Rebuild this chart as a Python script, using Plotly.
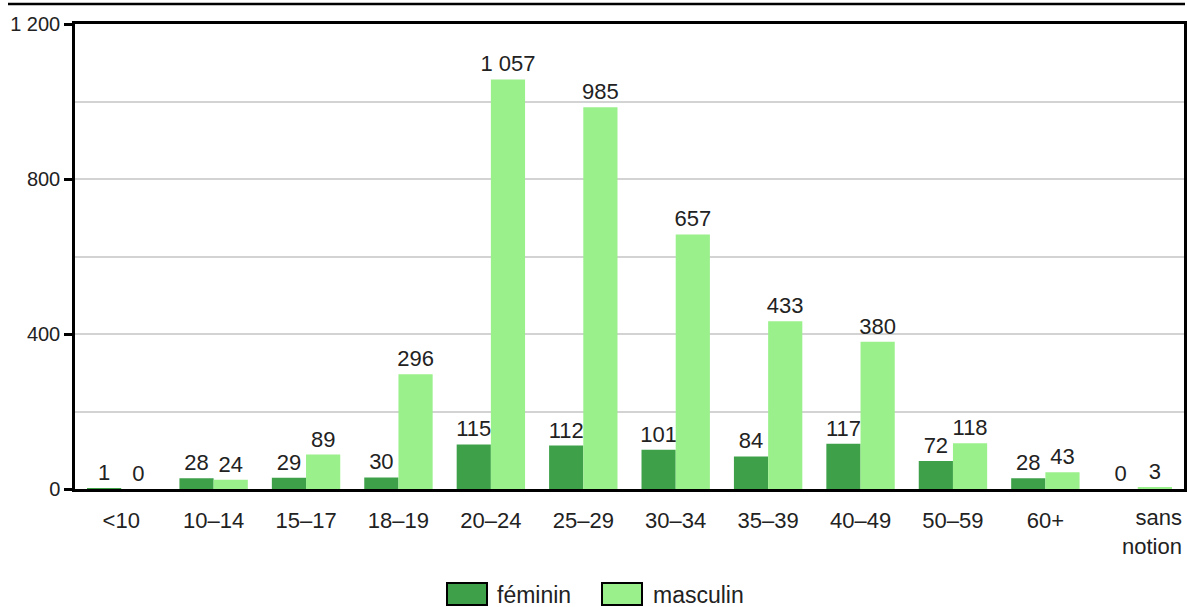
import plotly.graph_objects as go

categories = ["<10", "10–14", "15–17", "18–19", "20–24", "25–29", "30–34",
              "35–39", "40–49", "50–59", "60+", "sans notion"]
feminin = [1, 28, 29, 30, 115, 112, 101, 84, 117, 72, 28, 0]
masculin = [0, 24, 89, 296, 1057, 985, 657, 433, 380, 118, 43, 3]
series_names = ["féminin", "masculin"]
colors = ["#3ea14a", "#9af08b"]
y_ticks = [0, 400, 800, 1200]

FONT = "Liberation Sans, Arial, sans-serif"
TXT = "#222"
L, T, R, B = 75, 24, 3, 118
W, H = 1187, 607
pw, ph = W - L - R, H - T - B


def px_x(p):
    return (p - L) / pw


def px_y(p):
    return (H - B - p) / ph


fig = go.Figure()
for name, vals, col in zip(series_names, [feminin, masculin], colors):
    fig.add_trace(go.Bar(
        x=list(range(len(categories))), y=vals, name=name,
        marker=dict(color=col, line=dict(width=0)),
        text=vals, texttemplate="%{y:,}", textposition="outside",
        constraintext="none",
        textfont=dict(family=FONT, size=22, color=TXT),
        cliponaxis=False, showlegend=False,
    ))

ticktext = categories[:-1] + [""]
fig.update_layout(
    width=W, height=H,
    margin=dict(l=L, r=R, t=T, b=B, autoexpand=False),
    paper_bgcolor="white", plot_bgcolor="white",
    barmode="group", bargap=0.26, bargroupgap=0,
    separators=", ",
    font=dict(family=FONT, size=22, color=TXT),
    xaxis=dict(
        range=[-0.5, len(categories) - 0.5],
        tickvals=list(range(len(categories))), ticktext=ticktext,
        showgrid=False, zeroline=False,
        showline=True, linecolor="black", linewidth=2.5, mirror=True,
        ticks="", ticklabelstandoff=10, automargin=False,
        tickfont=dict(family=FONT, size=22, color=TXT),
    ),
    yaxis=dict(
        range=[0, 1200], tickvals=y_ticks, tickformat=",",
        showgrid=True, gridcolor="#d3d3d3", gridwidth=2,
        minor=dict(dtick=200, showgrid=True, gridcolor="#d3d3d3", gridwidth=2),
        zeroline=False, automargin=False,
        showline=True, linecolor="black", linewidth=2.5, mirror=True,
        ticks="outside", ticklen=8, tickwidth=2.5, tickcolor="black",
        tickfont=dict(family=FONT, size=20, color=TXT),
    ),
)

# last category label, right aligned on two lines
fig.add_annotation(
    x=len(categories) - 0.5, xref="x", xanchor="right",
    y=px_y(503), yref="paper", yanchor="top",
    text=categories[-1].replace(" ", "<br>"), align="right",
    showarrow=False, font=dict(family=FONT, size=22, color=TXT),
)

# top rule
fig.add_shape(type="line", xref="paper", yref="paper",
              x0=px_x(8), x1=px_x(1185), y0=px_y(4), y1=px_y(4),
              line=dict(color="black", width=2.5))

# custom legend
legend_pos = [(447, 495), (602, 651)]
for (sx, tx), name, col in zip(legend_pos, series_names, colors):
    fig.add_shape(type="rect", xref="paper", yref="paper",
                  x0=px_x(sx), x1=px_x(sx + 40), y0=px_y(605), y1=px_y(583),
                  fillcolor=col, line=dict(color="black", width=2))
    fig.add_annotation(x=px_x(tx), y=px_y(595), xref="paper", yref="paper",
                       xanchor="left", yanchor="middle", text=name,
                       showarrow=False,
                       font=dict(family=FONT, size=23, color=TXT))

fig.write_html(
    "out.html",
    config={"displayModeBar": False},
    post_script="document.body.style.margin='0';document.body.style.overflow='hidden';",
)
